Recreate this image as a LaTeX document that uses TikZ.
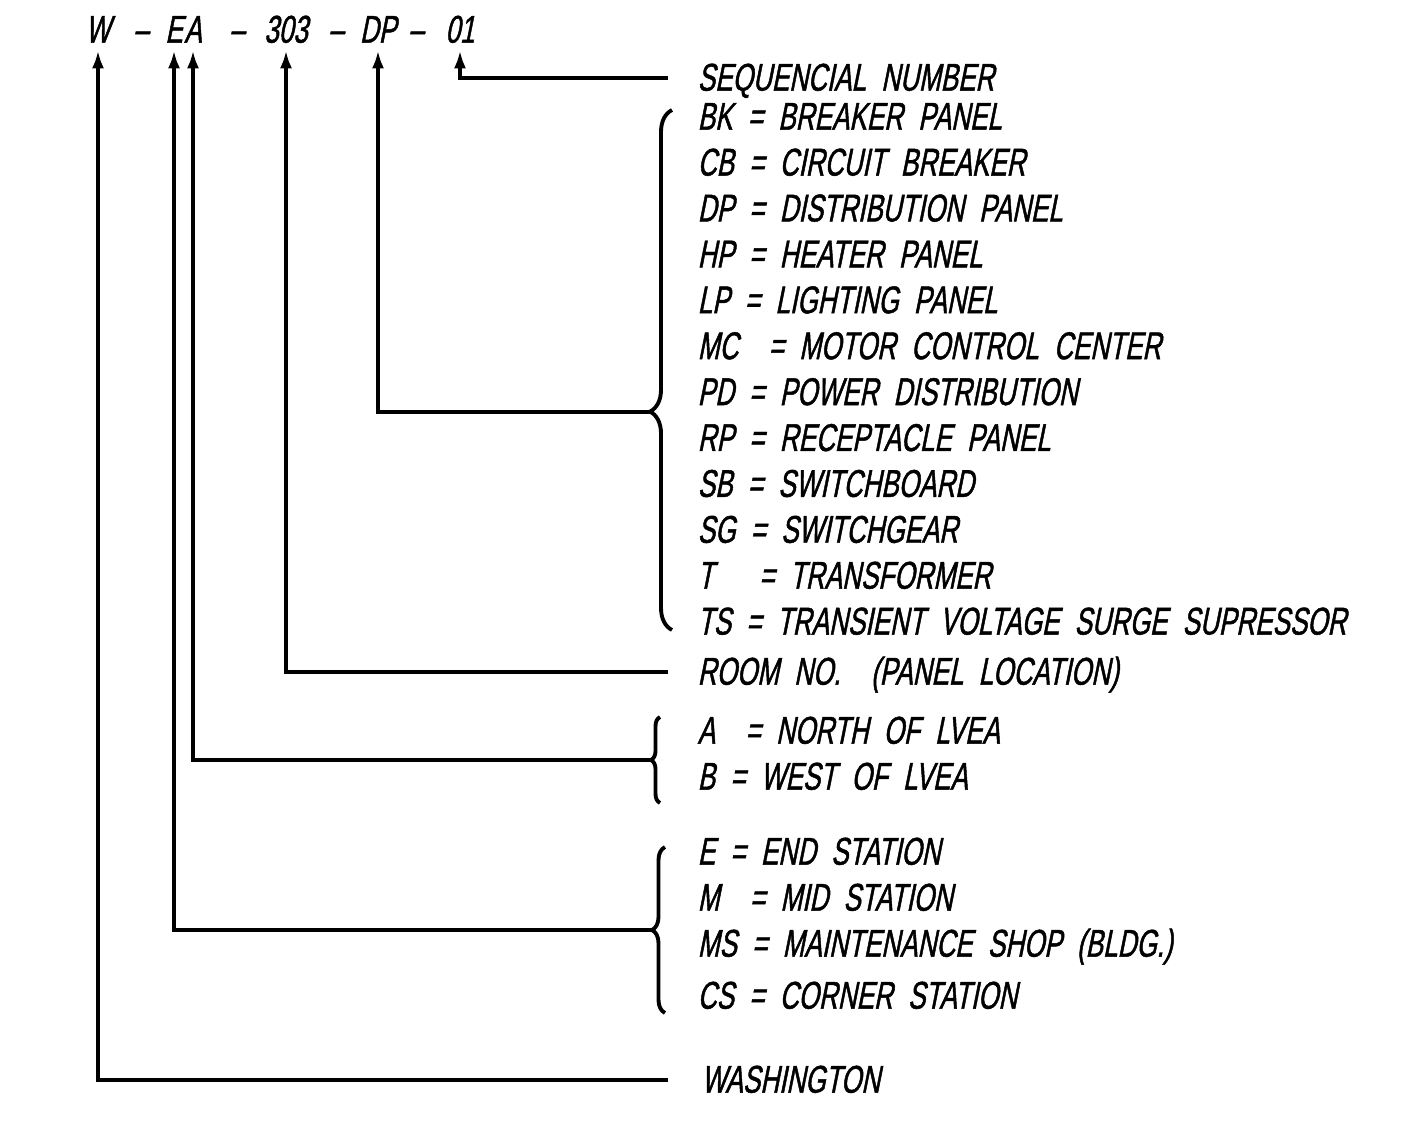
\documentclass[tikz,border=0pt]{standalone}
\usepackage{fontspec}
\setmainfont{Liberation Sans}[FakeSlant=0.2,FakeStretch=0.675,WordSpace=2.1,FakeBold=1.2]
\usetikzlibrary{arrows.meta,decorations.pathreplacing}

\tikzset{
  code/.style={inner sep=2pt,text height=0.72em,text depth=0pt},
  keytext/.style={anchor=west,inner sep=0pt,text height=0.72em,text depth=0pt},
  lead/.style={line width=1.1pt,-{Latex[length=1.8mm,width=1.2mm]}},
  curly/.style={line width=1.1pt,decorate,decoration={brace,amplitude=#1}},
}

\begin{document}
\begin{tikzpicture}[x=1cm,y=-1cm,font=\fontsize{11}{13}\selectfont]
\useasboundingbox (0,0) rectangle (14.06,11.24);

% tag string
\node[code] (cW) at (0.98,0.30) {W};
\node[code] (d1) at (1.41,0.30) {--};
\node[code] (cE) at (1.74,0.30) {E};
\node[code] (cA) at (1.93,0.30) {A};
\node[code] (d2) at (2.37,0.30) {--};
\node[code] (c303) at (2.86,0.30) {303};
\node[code] (d3) at (3.36,0.30) {--};
\node[code] (cDP) at (3.78,0.30) {DP};
\node[code] (d4) at (4.16,0.30) {--};
\node[code] (c01) at (4.60,0.30) {01};

% legend texts
\node[keytext] (seq) at (6.97,0.78) {SEQUENCIAL NUMBER};
\foreach \txt [count=\i] in {BK = BREAKER PANEL,CB = CIRCUIT BREAKER,
    DP = DISTRIBUTION PANEL,HP = HEATER PANEL,LP = LIGHTING PANEL,
    MC~~= MOTOR CONTROL CENTER,PD = POWER DISTRIBUTION,
    RP = RECEPTACLE PANEL,SB = SWITCHBOARD,SG = SWITCHGEAR,
    T~~~= TRANSFORMER,TS = TRANSIENT VOLTAGE SURGE SUPRESSOR}
  \node[keytext] (k\i) at (6.97,{1.17+0.459*(\i-1)}) {\txt};
\node[keytext] (room) at (6.97,6.72) {ROOM NO.~~(PANEL LOCATION)};
\node[keytext] (kA) at (6.97,7.31) {A~~= NORTH OF LVEA};
\node[keytext] (kB) at (6.97,7.77) {B = WEST OF LVEA};
\node[keytext] (kE) at (6.97,8.52) {E = END STATION};
\node[keytext] (kM) at (6.97,8.98) {M~~= MID STATION};
\node[keytext] (kMS) at (6.97,9.44) {MS = MAINTENANCE SHOP (BLDG.)};
\node[keytext] (kCS) at (6.97,9.96) {CS = CORNER STATION};
\node[keytext] (wash) at (7.01,10.80) {WASHINGTON};

% braces
\draw[curly=2.2mm,decoration={aspect=0.42}] (6.72,6.30) -- (6.72,1.10);
\coordinate (bDP) at (6.50,4.12);
\draw[curly=0.9mm] (6.60,8.03) -- (6.60,7.17);
\coordinate (bA) at (6.51,7.60);
\draw[curly=1.3mm] (6.65,10.13) -- (6.65,8.47);
\coordinate (bE) at (6.52,9.30);

% leaders
\draw[lead,shorten <=2.9mm] (seq.west) -| (c01.south);
\draw[lead] (bDP) -| (cDP.south);
\draw[lead,shorten <=2.9mm] (room.west) -| (c303.south);
\draw[lead] (bA) -| (cA.south);
\draw[lead] (bE) -| (cE.south);
\draw[lead,shorten <=3.3mm] (wash.west) -| (cW.south);
\end{tikzpicture}
\end{document}
